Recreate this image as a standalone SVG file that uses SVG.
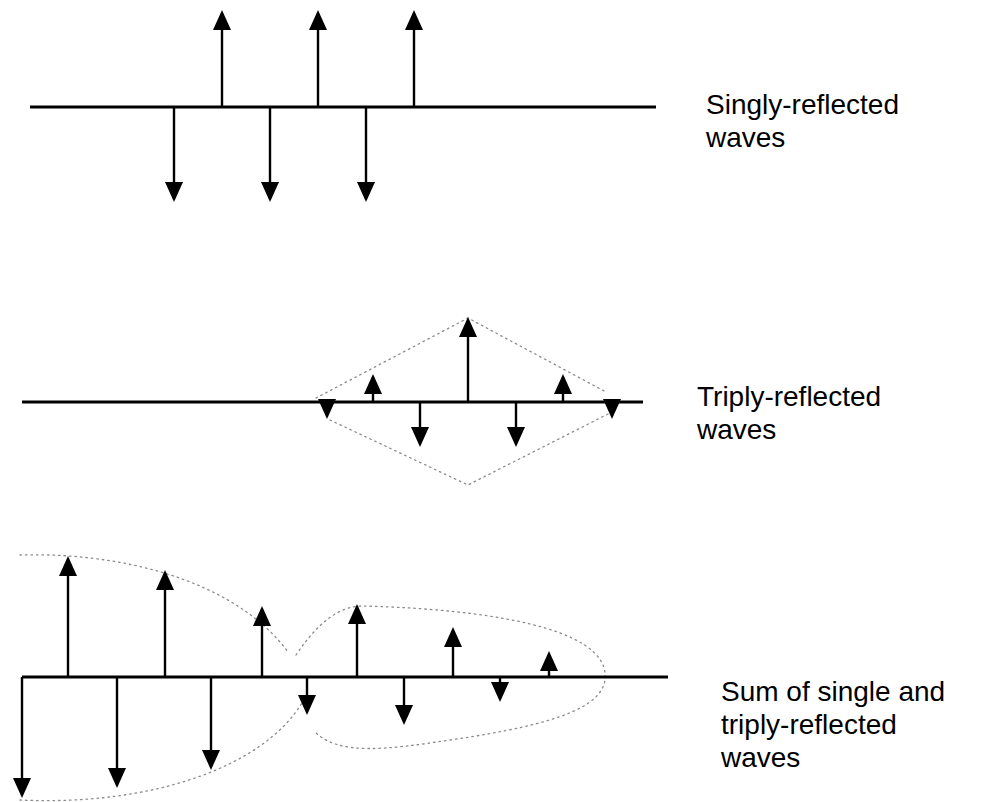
<svg xmlns="http://www.w3.org/2000/svg" xmlns:xlink="http://www.w3.org/1999/xlink" width="989" height="802" viewBox="0 0 989 802">
<style>
.base{stroke:#000;stroke-width:3.2;fill:none}
.shaft{stroke:#000;stroke-width:2.4;fill:none}
.env{stroke:#8a8a8a;stroke-width:1.3;fill:none;stroke-dasharray:1.5 4;stroke-linecap:round}
.head{fill:#000}
.lbl{font-family:"Liberation Sans",Arial,sans-serif;font-size:28px;fill:#000}
</style>
<defs>
<path id="up" class="head" d="M0,0 L-9,20 L9,20 Z"/>
<path id="dn" class="head" d="M0,0 L-9,-20 L9,-20 Z"/>
</defs>
<rect width="989" height="802" fill="#fff"/>

<g id="panel-single">
<line class="base" x1="30" y1="107" x2="656" y2="107"/>
<g id="single-up">
<line class="shaft" x1="222" y1="107" x2="222" y2="28"/><use xlink:href="#up" x="222" y="10"/>
<line class="shaft" x1="318" y1="107" x2="318" y2="28"/><use xlink:href="#up" x="318" y="10"/>
<line class="shaft" x1="414" y1="107" x2="414" y2="28"/><use xlink:href="#up" x="414" y="10"/>
</g>
<g id="single-down">
<line class="shaft" x1="174" y1="107" x2="174" y2="184"/><use xlink:href="#dn" x="174" y="202"/>
<line class="shaft" x1="270" y1="107" x2="270" y2="184"/><use xlink:href="#dn" x="270" y="202"/>
<line class="shaft" x1="366" y1="107" x2="366" y2="184"/><use xlink:href="#dn" x="366" y="202"/>
</g>
<text class="lbl" x="706" y="114">Singly-reflected</text>
<text class="lbl" x="706" y="147">waves</text>
</g>

<g id="panel-triple">
<path class="env" d="M316,398 L468,318 L606,392"/>
<path class="env" d="M330,420 L468,485 L612,412"/>
<line class="base" x1="22" y1="402" x2="643" y2="402"/>
<use xlink:href="#dn" x="327" y="419"/>
<use xlink:href="#dn" x="612" y="419"/>
<line class="shaft" x1="373" y1="402" x2="373" y2="390"/><use xlink:href="#up" x="373" y="374"/>
<line class="shaft" x1="563" y1="402" x2="563" y2="390"/><use xlink:href="#up" x="563" y="374"/>
<line class="shaft" x1="468" y1="402" x2="468" y2="334"/><use xlink:href="#up" x="468" y="317"/>
<line class="shaft" x1="420" y1="402" x2="420" y2="430"/><use xlink:href="#dn" x="420" y="447"/>
<line class="shaft" x1="516" y1="402" x2="516" y2="430"/><use xlink:href="#dn" x="516" y="447"/>
<text class="lbl" x="697" y="406">Triply-reflected</text>
<text class="lbl" x="697" y="439">waves</text>
</g>

<g id="panel-sum">
<path class="env" d="M20,555 C120,552 235,580 288,652"/>
<path class="env" d="M20,800 C150,806 262,768 302,703"/>
<path class="env" d="M296,655 C318,622 340,606 362,606 C450,608 590,620 604,668 C614,705 560,724 450,740 C385,750 340,755 316,733"/>
<line class="base" x1="22" y1="677" x2="668" y2="677"/>
<g id="sum-up">
<line class="shaft" x1="68" y1="677" x2="68" y2="572"/><use xlink:href="#up" x="68" y="556"/>
<line class="shaft" x1="165" y1="677" x2="165" y2="586"/><use xlink:href="#up" x="165" y="570"/>
<line class="shaft" x1="262" y1="677" x2="262" y2="622"/><use xlink:href="#up" x="262" y="606"/>
<line class="shaft" x1="357" y1="677" x2="357" y2="620"/><use xlink:href="#up" x="357" y="604"/>
<line class="shaft" x1="453" y1="677" x2="453" y2="643"/><use xlink:href="#up" x="453" y="627"/>
<line class="shaft" x1="549" y1="677" x2="549" y2="667"/><use xlink:href="#up" x="549" y="651"/>
</g>
<g id="sum-down">
<line class="shaft" x1="22" y1="677" x2="22" y2="782"/><use xlink:href="#dn" x="22" y="798"/>
<line class="shaft" x1="117" y1="677" x2="117" y2="772"/><use xlink:href="#dn" x="117" y="788"/>
<line class="shaft" x1="211" y1="677" x2="211" y2="754"/><use xlink:href="#dn" x="211" y="770"/>
<line class="shaft" x1="307" y1="677" x2="307" y2="699"/><use xlink:href="#dn" x="307" y="715"/>
<line class="shaft" x1="404" y1="677" x2="404" y2="709"/><use xlink:href="#dn" x="404" y="725"/>
<line class="shaft" x1="500" y1="677" x2="500" y2="686"/><use xlink:href="#dn" x="500" y="702"/>
</g>
<text class="lbl" x="721" y="701">Sum of single and</text>
<text class="lbl" x="721" y="734">triply-reflected</text>
<text class="lbl" x="721" y="767">waves</text>
</g>
</svg>
